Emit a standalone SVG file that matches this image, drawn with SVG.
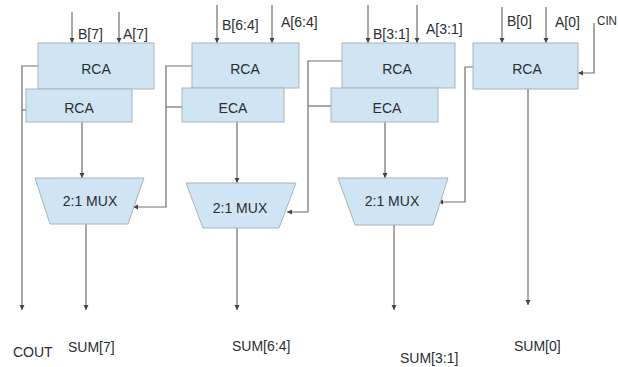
<svg xmlns="http://www.w3.org/2000/svg" width="618" height="367" viewBox="0 0 618 367">
<style>
.box{fill:#cfe5f3;stroke:#a7b3bc;stroke-width:1}
.t{font-family:"Liberation Sans",Arial,sans-serif;font-size:14px;fill:#2a2d31}
.c{text-anchor:middle}
.w{fill:none;stroke:#6e6e6e;stroke-width:1.2}
</style>
<defs>
<marker id="ah" markerWidth="6" markerHeight="6" refX="5" refY="3" orient="auto" markerUnits="userSpaceOnUse">
<path d="M0,0.5 L5,3 L0,5.5 z" fill="#444"/>
</marker>
</defs>
<rect width="618" height="367" fill="#ffffff"/>
<g id="connectors">
<path class="w" d="M72,12 V43" marker-end="url(#ah)"/>
<path class="w" d="M119,12 V43" marker-end="url(#ah)"/>
<path class="w" d="M38,66 H22 V310" marker-end="url(#ah)"/>
<path class="w" d="M26,110 H22"/>
<path class="w" d="M82,122 V178" marker-end="url(#ah)"/>
<path class="w" d="M86,224 V310" marker-end="url(#ah)"/>
<path class="w" d="M192,66 H166 V207 H133" marker-end="url(#ah)"/>
<path class="w" d="M182,107 H166"/>
<path class="w" d="M217,5 V43" marker-end="url(#ah)"/>
<path class="w" d="M272,5 V43" marker-end="url(#ah)"/>
<path class="w" d="M237,122 V183" marker-end="url(#ah)"/>
<path class="w" d="M237,228 V310" marker-end="url(#ah)"/>
<path class="w" d="M342,61 H308 V212 H287" marker-end="url(#ah)"/>
<path class="w" d="M331,106 H308"/>
<path class="w" d="M368,5 V43" marker-end="url(#ah)"/>
<path class="w" d="M417,5 V43" marker-end="url(#ah)"/>
<path class="w" d="M385,122 V178" marker-end="url(#ah)"/>
<path class="w" d="M394,225 V310" marker-end="url(#ah)"/>
<path class="w" d="M473,67 H465 V202 H438" marker-end="url(#ah)"/>
<path class="w" d="M502,7 V43" marker-end="url(#ah)"/>
<path class="w" d="M546,7 V43" marker-end="url(#ah)"/>
<path class="w" d="M594,23 V73 H578" marker-end="url(#ah)"/>
<path class="w" d="M528,89 V305" marker-end="url(#ah)"/>
</g>
<g id="rca7">
<rect class="box" x="38" y="43" width="116" height="46"/>
<text class="t c" x="96" y="74">RCA</text>
</g>
<g id="rca7b">
<rect class="box" x="26" y="89" width="106" height="33"/>
<text class="t c" x="79" y="113">RCA</text>
</g>
<g id="mux7">
<polygon class="box" points="35,178 144,178 128,224 50,224"/>
<text class="t c" x="90" y="206">2:1 MUX</text>
</g>
<g id="rca64">
<rect class="box" x="192" y="43" width="107" height="45"/>
<text class="t c" x="245" y="74">RCA</text>
</g>
<g id="eca64">
<rect class="box" x="182" y="88" width="102" height="34"/>
<text class="t c" x="233" y="113">ECA</text>
</g>
<g id="mux64">
<polygon class="box" points="186,183 296,183 279,228 203,228"/>
<text class="t c" x="240" y="213">2:1 MUX</text>
</g>
<g id="rca31">
<rect class="box" x="342" y="43" width="113" height="45"/>
<text class="t c" x="397" y="74">RCA</text>
</g>
<g id="eca31">
<rect class="box" x="331" y="88" width="107" height="34"/>
<text class="t c" x="387" y="113">ECA</text>
</g>
<g id="mux31">
<polygon class="box" points="338,178 448,178 433,225 355,225"/>
<text class="t c" x="392" y="206">2:1 MUX</text>
</g>
<g id="rca0">
<rect class="box" x="473" y="43" width="105" height="46"/>
<text class="t c" x="527" y="74">RCA</text>
</g>
<g id="labels">
<text class="t" x="78" y="39">B[7]</text>
<text class="t" x="123" y="39">A[7]</text>
<text class="t" x="222" y="30">B[6:4]</text>
<text class="t" x="281" y="27">A[6:4]</text>
<text class="t" x="373" y="39">B[3:1]</text>
<text class="t" x="426" y="34">A[3:1]</text>
<text class="t" x="507" y="26">B[0]</text>
<text class="t" x="555" y="27">A[0]</text>
<text class="t" x="597" y="25" style="font-size:12px" textLength="20" lengthAdjust="spacingAndGlyphs">CIN</text>
<text class="t" x="13" y="357">COUT</text>
<text class="t" x="68" y="352">SUM[7]</text>
<text class="t" x="232" y="351">SUM[6:4]</text>
<text class="t" x="400" y="363">SUM[3:1]</text>
<text class="t" x="514" y="351">SUM[0]</text>
</g>
</svg>
